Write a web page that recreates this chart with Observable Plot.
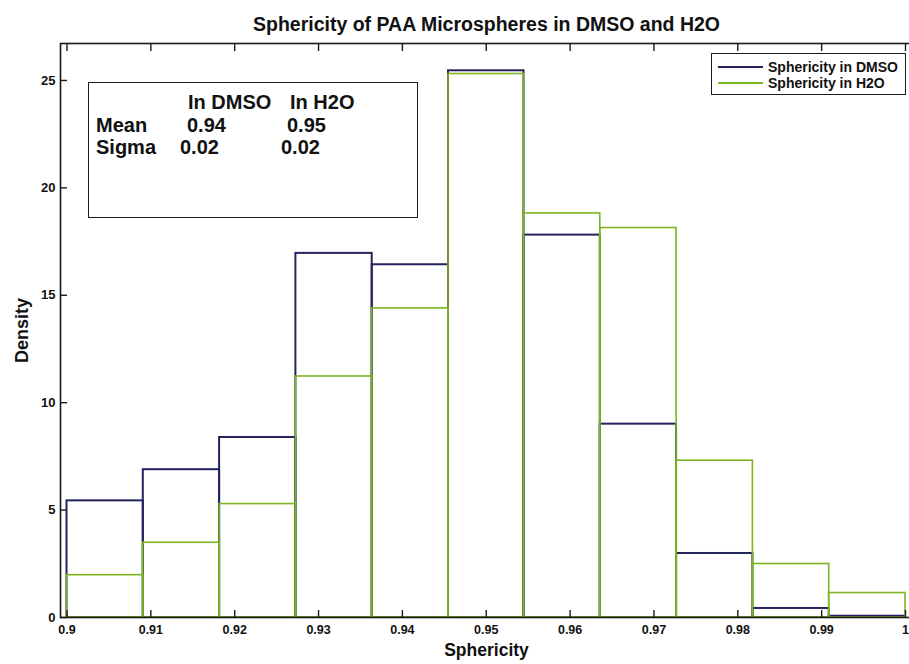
<!DOCTYPE html>
<html>
<head>
<meta charset="utf-8">
<script src="https://cdn.jsdelivr.net/npm/d3@7"></script>
<script src="https://cdn.jsdelivr.net/npm/@observablehq/plot@0.6"></script>
<style>
  html, body { margin: 0; padding: 0; background: #fff; overflow: hidden; width: 909px; height: 664px; }
  #wrap { position: relative; width: 909px; height: 664px; overflow: hidden;
          font-family: "Liberation Sans", Arial, sans-serif; color: #111; }
  #chart { position: absolute; left: 0; top: 0; width: 912px; }
  #chart svg { max-width: none !important; }
  .box { position: absolute; border: 1.6px solid #1a1a1a; background: transparent; box-sizing: border-box; }
  .t { position: absolute; white-space: nowrap; font-weight: bold; line-height: 1; }
  .stat { font-size: 20px; }
  .leg { font-size: 14px; }
  .swatch { position: absolute; height: 0; border-top: 2px solid; }
</style>
</head>
<body>
<div id="wrap">
  <div id="chart"></div>
  <div id="statbox" class="box" style="left:88px; top:82px; width:330px; height:136px;"></div>
  <div id="legend" class="box" style="left:711px; top:53px; width:195px; height:42px;"></div>
</div>
<script>
// ---- data ----
const binStart = [0.9000, 0.9091, 0.9182, 0.9273, 0.9364, 0.9455, 0.9545, 0.9636, 0.9727, 0.9818, 0.9909];
const binEnd   = [0.9091, 0.9182, 0.9273, 0.9364, 0.9455, 0.9545, 0.9636, 0.9727, 0.9818, 0.9909, 1.0000];
const dmsoDensity = [5.43, 6.88, 8.38, 16.95, 16.42, 25.45, 17.80, 9.00, 2.98, 0.42, 0.06];
const h2oDensity  = [1.97, 3.48, 5.28, 11.22, 14.39, 25.30, 18.81, 18.13, 7.30, 2.49, 1.14];
const seriesNames = ["Sphericity in DMSO", "Sphericity in H2O"];
const xTicks = [0.9, 0.91, 0.92, 0.93, 0.94, 0.95, 0.96, 0.97, 0.98, 0.99, 1.0];
const xTickLabels = ["0.9", "0.91", "0.92", "0.93", "0.94", "0.95", "0.96", "0.97", "0.98", "0.99", "1"];
const yTicks = [0, 5, 10, 15, 20, 25];
const yTickLabels = ["0", "5", "10", "15", "20", "25"];
const statHeader = ["In DMSO", "In H2O"];
const statRows = ["Mean", "Sigma"];
const statDMSO = ["0.94", "0.02"];
const statH2O = ["0.95", "0.02"];
const titleText = "Sphericity of PAA Microspheres in DMSO and H2O";
const xLabel = "Sphericity";
const yLabel = "Density";

const FONT = '"Liberation Sans", Arial, sans-serif';
const NAVY = "#23235f";
const GREEN = "#7db51f";

const dmso = binStart.map((x1, i) => ({x1, x2: binEnd[i], y: dmsoDensity[i]}));
const h2o = binStart.map((x1, i) => ({x1, x2: binEnd[i], y: h2oDensity[i]}));

const chart = Plot.plot({
  width: 912,
  height: 664,
  marginTop: 43,
  marginBottom: 47,
  marginLeft: 60,
  marginRight: 0,
  style: {fontFamily: FONT, background: "transparent", color: "#111", overflow: "visible", maxWidth: "none"},
  x: {domain: [0.899225, 1.000835], axis: null},
  y: {domain: [0, 26.72], axis: null},
  marks: [
    Plot.rect(dmso, {x1: "x1", x2: "x2", y1: 0, y2: "y", fill: "none", stroke: NAVY, strokeWidth: 2}),
    Plot.rect(h2o, {x1: "x1", x2: "x2", y1: 0, y2: "y", fill: "none", stroke: GREEN, strokeWidth: 1.6}),
    Plot.frame({stroke: "#1a1a1a", strokeWidth: 1.6}),
    Plot.axisX(xTicks, {anchor: "bottom", tickSize: -7, tickPadding: 15, label: null,
      tickFormat: d => xTickLabels[xTicks.indexOf(d)], fontSize: 12.5, fontWeight: "bold", stroke: "#1a1a1a", strokeWidth: 1.4}),
    Plot.axisX(xTicks, {anchor: "top", tickSize: -7, label: null, tickFormat: () => "", stroke: "#1a1a1a", strokeWidth: 1.4}),
    Plot.axisY(yTicks, {anchor: "left", tickSize: -7, tickPadding: 12, label: null,
      tickFormat: d => yTickLabels[yTicks.indexOf(d)], fontSize: 13, fontWeight: "bold", stroke: "#1a1a1a", strokeWidth: 1.4}),
    Plot.text([titleText], {frameAnchor: "top", dy: -26, fontSize: 19.5, fontWeight: "bold"}),
    Plot.text([xLabel], {frameAnchor: "bottom", dy: 38, fontSize: 17.5, fontWeight: "bold"}),
    Plot.text([yLabel], {frameAnchor: "left", dx: -38, rotate: -90, textAnchor: "middle", fontSize: 18, fontWeight: "bold"})
  ]
});
document.getElementById("chart").appendChild(chart);

// ---- stats text box ----
const wrap = document.getElementById("wrap");
function addText(txt, left, top, cls) {
  const el = document.createElement("div");
  el.className = "t " + cls;
  el.textContent = txt;
  el.style.left = left + "px";
  el.style.top = top + "px";
  wrap.appendChild(el);
  return el;
}
addText(statHeader[0], 188, 92, "stat");
addText(statHeader[1], 290, 92, "stat");
addText(statRows[0], 96, 115, "stat");
addText(statDMSO[0], 187, 115, "stat");
addText(statH2O[0], 287, 115, "stat");
addText(statRows[1], 96, 137, "stat");
addText(statDMSO[1], 180, 137, "stat");
addText(statH2O[1], 281, 137, "stat");

// ---- legend ----
const colors = [NAVY, GREEN];
seriesNames.forEach((name, i) => {
  const sw = document.createElement("div");
  sw.className = "swatch";
  sw.style.left = "718px";
  sw.style.width = "45px";
  sw.style.top = (66 + i * 16) + "px";
  sw.style.borderTopColor = colors[i];
  wrap.appendChild(sw);
  addText(name, 768, 60 + i * 16, "leg");
});
</script>
</body>
</html>
